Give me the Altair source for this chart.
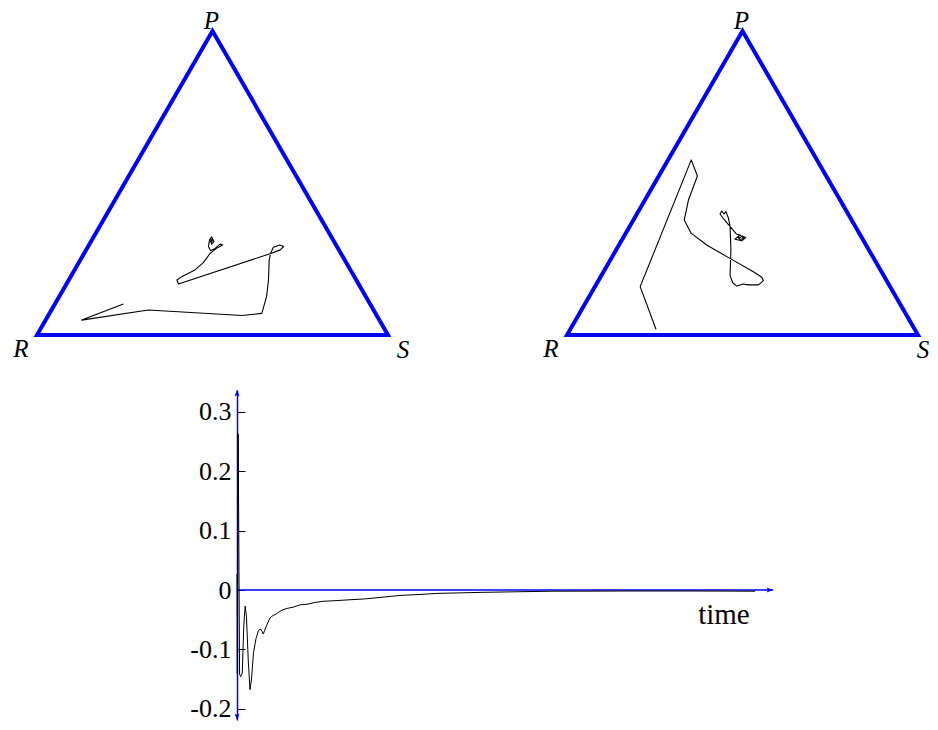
import altair as alt
import pandas as pd

# ---------------- data ----------------
# trajectories in the simplex: shares of P and S (R = 1 - P - S)
left_p = [0.102, 0.049, 0.082, 0.064, 0.071, 0.126, 0.181, 0.247, 0.269, 0.289,
          0.296, 0.291, 0.280, 0.269, 0.168, 0.181, 0.192, 0.214, 0.238, 0.269,
          0.285, 0.296, 0.299, 0.285, 0.277, 0.291, 0.313, 0.323, 0.307, 0.299,
          0.313, 0.306, 0.309, 0.316]
left_s = [0.195, 0.103, 0.276, 0.552, 0.605, 0.591, 0.569, 0.538, 0.531, 0.529,
          0.544, 0.557, 0.553, 0.534, 0.319, 0.308, 0.316, 0.343, 0.355, 0.359,
          0.369, 0.381, 0.372, 0.365, 0.356, 0.343, 0.335, 0.336, 0.351, 0.348,
          0.339, 0.341, 0.345, 0.339]

right_p = [0.019, 0.159, 0.576, 0.523, 0.444, 0.378, 0.335, 0.296, 0.252, 0.208,
           0.190, 0.179, 0.165, 0.165, 0.168, 0.161, 0.172, 0.197, 0.280, 0.359,
           0.384, 0.406, 0.398, 0.408, 0.398, 0.384, 0.332, 0.321, 0.310, 0.315,
           0.329, 0.318, 0.314, 0.322, 0.321]
right_s = [0.244, 0.129, 0.066, 0.110, 0.124, 0.145, 0.186, 0.250, 0.338, 0.427,
           0.460, 0.470, 0.463, 0.434, 0.418, 0.403, 0.386, 0.366, 0.327, 0.285,
           0.268, 0.250, 0.248, 0.237, 0.237, 0.253, 0.317, 0.349, 0.343, 0.321,
           0.328, 0.345, 0.336, 0.326, 0.335]

vertex_names = ["R", "P", "S"]
vertex_p = [0.0, 1.0, 0.0]
vertex_s = [0.0, 0.0, 1.0]

time_t = [0, 0.06, 0.23, 0.50, 0.73, 1.02, 1.31, 1.58, 1.83, 2.18,
          2.51, 2.80, 3.19, 3.67, 4.15, 4.63, 5.08, 5.60, 6.37, 6.95,
          7.63, 8.11, 8.69, 9.65, 10.81, 12.16, 13.51, 15.06, 16.60, 18.92,
          21.43, 24.71, 27.61, 31.66, 35.33, 38.61, 43.05, 46.91, 53.67, 60.62,
          68.15, 74.52, 81.66, 88.22, 94.21, 100]
time_v = [0.027, -0.14, 0.263, -0.142, -0.146, -0.14, -0.06, -0.027, -0.045, -0.12,
          -0.168, -0.15, -0.105, -0.082, -0.068, -0.066, -0.074, -0.062, -0.047, -0.043,
          -0.040, -0.037, -0.034, -0.031, -0.029, -0.025, -0.024, -0.021, -0.019, -0.018,
          -0.0166, -0.015, -0.0125, -0.009, -0.0075, -0.0057, -0.0048, -0.004, -0.003, -0.002,
          -0.0019, -0.0017, -0.0017, -0.0017, -0.0018, -0.002]

y_tick_values = [-0.2, -0.1, 0.0, 0.1, 0.2, 0.3]
x_axis_end = 103.5
y_axis_top = 0.337
y_axis_bottom = -0.219
time_label = "time"
time_label_t = 94.0
time_label_v = -0.057

# ---------------- style / layout ----------------
BLUE = "#0000ff"
SERIF = "Liberation Serif"

SIDE = 351.0          # px per unit side of the simplex
TRI_H = 357
TRI_W_LEFT = 412
TRI_W_RIGHT = 392
TRI_RX = 29           # px from panel left edge to vertex R
TRI_RY = 327          # px from panel top edge to the base
H_GAP = 118
V_GAP = 25

TIME_W = 922
ORIGIN_X = 229
PX_PER_T = 5.18
PX_PER_V = 593.3
TIME_H = round((y_axis_top - y_axis_bottom) * PX_PER_V)

VERTEX_FONT = 25
LEFT_LABEL_OFFSETS = {"R": (-16, 14), "P": (-1, -10.5), "S": (15, 15)}
RIGHT_LABEL_OFFSETS = {"R": (-16, 14), "P": (-1, -10.5), "S": (5, 15)}

TO_XY = {"x": "datum.s + datum.p / 2", "y": "datum.p * sqrt(3) / 2"}


def triangle_panel(p, s, width, offsets):
    xs = alt.Scale(domain=[-TRI_RX / SIDE, (width - TRI_RX) / SIDE], nice=False, zero=False)
    ys = alt.Scale(domain=[-(TRI_H - TRI_RY) / SIDE, TRI_RY / SIDE], nice=False, zero=False)
    X = alt.X("x:Q", scale=xs, axis=None)
    Y = alt.Y("y:Q", scale=ys, axis=None)
    verts = pd.DataFrame({"name": vertex_names, "p": vertex_p, "s": vertex_s})
    traj = pd.DataFrame({"p": p, "s": s, "step": list(range(len(p)))})

    outline = alt.Chart(verts).transform_calculate(**TO_XY).mark_line(
        interpolate="linear-closed", color=BLUE, strokeWidth=4, strokeJoin="miter"
    ).encode(x=X, y=Y)

    path = alt.Chart(traj).transform_calculate(**TO_XY).mark_line(
        color="black", strokeWidth=1.1, strokeJoin="round"
    ).encode(x=X, y=Y, order="step:Q")

    labels = []
    for name in vertex_names:
        dx, dy = offsets[name]
        labels.append(
            alt.Chart(verts)
            .transform_filter(f"datum.name == '{name}'")
            .transform_calculate(**TO_XY)
            .mark_text(font=SERIF, fontStyle="italic", fontSize=VERTEX_FONT, dx=dx, dy=dy,
                       color="black", clip=(name == "S"))
            .encode(x=X, y=Y, text="name:N")
        )
    return alt.layer(outline, path, *labels).properties(width=width, height=TRI_H)


left = triangle_panel(left_p, left_s, TRI_W_LEFT, LEFT_LABEL_OFFSETS)
right = triangle_panel(right_p, right_s, TRI_W_RIGHT, RIGHT_LABEL_OFFSETS)

# ---------------- time panel ----------------
t_dom = [-ORIGIN_X / PX_PER_T, (TIME_W - ORIGIN_X) / PX_PER_T]
v_dom = [y_axis_bottom, y_axis_top]
tsc = alt.Scale(domain=t_dom, nice=False, zero=False)
vsc = alt.Scale(domain=v_dom, nice=False, zero=False)

series = pd.DataFrame({"t": time_t, "v": time_v, "step": list(range(len(time_t)))})

label_expr = ("datum.value == 0 ? '0' : (datum.value < 0 ? '-' + format(-datum.value, '.1f') "
              ": format(datum.value, '.1f'))")

left_axis = alt.Axis(orient="left", offset=-ORIGIN_X, values=y_tick_values, ticks=False,
                     domainColor=BLUE, domainWidth=1.5, grid=False, title=None,
                     labelFont=SERIF, labelFontSize=26, labelColor="black",
                     labelPadding=6, labelExpr=label_expr)
tick_axis = alt.Axis(orient="right", offset=-(TIME_W - ORIGIN_X), values=y_tick_values,
                     labels=False, domain=False, ticks=True, tickSize=8,
                     tickColor="black", tickWidth=1, grid=False, title=None)

xaxis_df = pd.DataFrame({"t0": [0.0], "t1": [x_axis_end], "v": [0.0]})
xrule = alt.Chart(xaxis_df).mark_rule(color=BLUE, strokeWidth=1.5).encode(
    x=alt.X("t0:Q", scale=tsc, axis=None), x2="t1:Q",
    y=alt.Y("v:Q", scale=vsc, axis=tick_axis),
)

curve = alt.Chart(series).mark_line(color="black", strokeWidth=1).encode(
    x=alt.X("t:Q", scale=tsc, axis=None),
    y=alt.Y("v:Q", scale=vsc, axis=left_axis),
    order="step:Q",
)

ARROW_UP = "M0,0 L0.5,1.3 L0,1 L-0.5,1.3 Z"
ARROW_DOWN = "M0,0 L0.5,-1.3 L0,-1 L-0.5,-1.3 Z"
ARROW_RIGHT = "M0,0 L-1.3,0.5 L-1,0 L-1.3,-0.5 Z"
arrows_df = pd.DataFrame({
    "t": [0.0, 0.0, x_axis_end],
    "v": [y_axis_top, y_axis_bottom, 0.0],
    "dir": ["up", "down", "right"],
})
arrows = alt.Chart(arrows_df).mark_point(filled=True, color=BLUE, opacity=1, size=100).encode(
    x=alt.X("t:Q", scale=tsc, axis=None),
    y=alt.Y("v:Q", scale=vsc, axis=None),
    shape=alt.Shape("dir:N", scale=alt.Scale(domain=["up", "down", "right"],
                                             range=[ARROW_UP, ARROW_DOWN, ARROW_RIGHT]),
                    legend=None),
)

tlabel = alt.Chart(pd.DataFrame({"t": [time_label_t], "v": [time_label_v], "label": [time_label]})).mark_text(
    font=SERIF, fontSize=29, color="black", baseline="alphabetic"
).encode(
    x=alt.X("t:Q", scale=tsc, axis=None),
    y=alt.Y("v:Q", scale=vsc, axis=None),
    text="label:N",
)

time_panel = alt.layer(xrule, curve, arrows, tlabel).resolve_axis(y="independent").properties(
    width=TIME_W, height=TIME_H
)

top = alt.hconcat(left, right, spacing=H_GAP, bounds="flush")
chart = alt.vconcat(top, time_panel, spacing=V_GAP).properties(
    padding=0, background="white"
).configure_view(stroke=None)

chart.save("out.html", embed_options={"renderer": "svg", "actions": False})
